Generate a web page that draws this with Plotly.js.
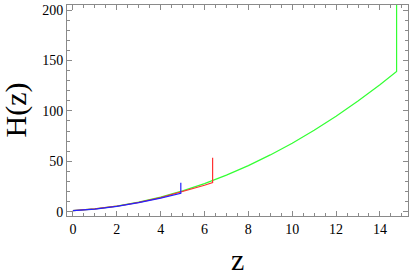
<!DOCTYPE html>
<html>
<head>
<meta charset="utf-8">
<script src="https://cdn.plot.ly/plotly-3.0.1.min.js"></script>
<style>html,body{margin:0;padding:0;background:#fff;}#chart{width:409px;height:276px;}</style>
</head>
<body>
<div id="chart"></div>
<script>
// green series
const zGreen = [0, 1, 2, 3, 4, 5, 6, 7, 8, 9, 10, 11, 12, 13, 14, 14.76, 14.76];
const hGreen = [1, 2.7, 5.5, 9.4, 14.4, 20.6, 27.8, 36.2, 45.7, 56.3, 67.9, 80.8, 94.7, 109.8, 125.9, 139, 215];
// red series
const zRed = [0, 1, 2, 3, 4, 5, 6, 6.37, 6.37];
const hRed = [1, 2.7, 5.4, 9.2, 14.0, 19.8, 26.2, 28.8, 53.6];
// blue series
const zBlue = [0, 1, 2, 3, 4, 4.92, 4.92];
const hBlue = [1, 2.6, 5.3, 9.0, 13.5, 18.2, 28.8];
const xTicks = [0, 2, 4, 6, 8, 10, 12, 14];
const yTicks = [0, 50, 100, 150, 200];

const font = 'Liberation Serif, Times New Roman, serif';
const frame = '#8a8a8a';

const traces = [
  {x: zGreen, y: hGreen, mode: 'lines', line: {color: '#33ff33', width: 1.2}},
  {x: zRed, y: hRed, mode: 'lines', line: {color: '#ff3333', width: 1.2}},
  {x: zBlue, y: hBlue, mode: 'lines', line: {color: '#2222ff', width: 1.2}}
].map(t => Object.assign(t, {hoverinfo: 'skip', showlegend: false}));

const axisCommon = {
  showgrid: false, zeroline: false, showline: true, linecolor: frame, linewidth: 1,
  mirror: 'ticks', ticks: 'inside', ticklen: 5, tickcolor: frame, tickwidth: 1,
  tickfont: {family: font, size: 14, color: '#000'}
};

const layout = {
  width: 409, height: 276,
  margin: {l: 67, r: 1, t: 5, b: 60},
  paper_bgcolor: '#fff', plot_bgcolor: '#fff',
  xaxis: Object.assign({}, axisCommon, {
    range: [-0.27, 15.28], tickvals: xTicks, ticktext: xTicks.map(String),
    minor: {dtick: 0.5, tick0: 0, ticks: 'inside', ticklen: 3, tickcolor: frame, showgrid: false}
  }),
  yaxis: Object.assign({}, axisCommon, {
    range: [-4.3, 205], tickvals: yTicks, ticktext: yTicks.map(String),
    minor: {dtick: 10, tick0: 0, ticks: 'inside', ticklen: 3, tickcolor: frame, showgrid: false}
  }),
  annotations: [
    {text: 'z', xref: 'paper', yref: 'paper', x: 0.5, y: 0, yshift: -43, xanchor: 'center', yanchor: 'middle',
     showarrow: false, font: {family: font, size: 30, color: '#000'}},
    {text: 'H(z)', xref: 'paper', yref: 'paper', x: 0, y: 0.5, xshift: -52, xanchor: 'center', yanchor: 'middle',
     textangle: -90, showarrow: false, font: {family: font, size: 30, color: '#000'}}
  ]
};

Plotly.newPlot('chart', traces, layout, {displayModeBar: false, staticPlot: true});
</script>
</body>
</html>
